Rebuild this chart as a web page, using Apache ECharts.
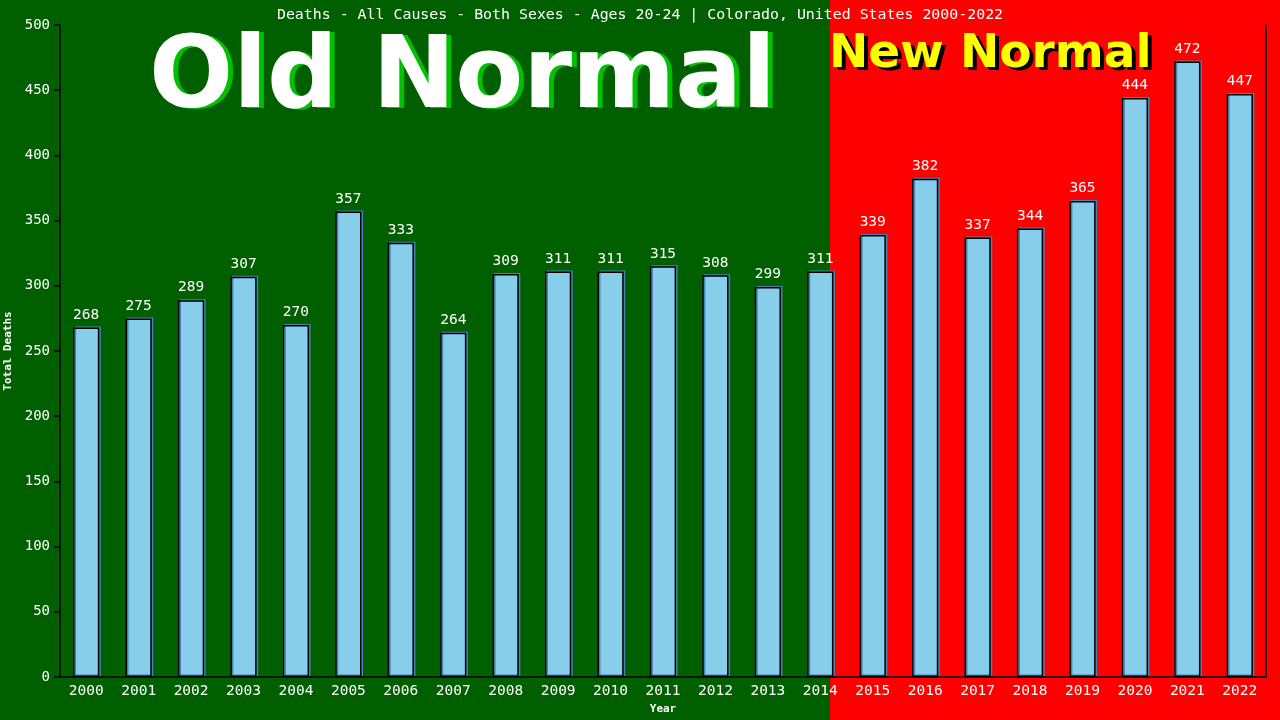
<!DOCTYPE html>
<html style="height: 100%">
<head>
    <meta charset="utf-8">
</head>
<body style="height: 100%; margin: 0">
<div id="container" style="width: 1280px; height: 720px"></div>
<script type="text/javascript" src="https://cdn.jsdelivr.net/npm/echarts@6/dist/echarts.min.js"></script>
<script type="text/javascript">
    var years = ['2000', '2001', '2002', '2003', '2004', '2005', '2006', '2007', '2008', '2009', '2010', '2011',
        '2012', '2013', '2014', '2015', '2016', '2017', '2018', '2019', '2020', '2021', '2022'];
    var deaths = [268, 275, 289, 307, 270, 357, 333, 264, 309, 311, 311, 315,
        308, 299, 311, 339, 382, 337, 344, 365, 444, 472, 447];
    var yTicks = [0, 50, 100, 150, 200, 250, 300, 350, 400, 450, 500];

    var font = 'DejaVu Sans Mono';
    var myChart = echarts.init(document.getElementById('container'));

    var option = {
        animation: false,
        backgroundColor: '#006000',
        title: {
            text: 'Deaths - All Causes - Both Sexes - Ages 20-24 | Colorado, United States 2000-2022',
            left: 'center',
            top: 3,
            textStyle: {color: '#fff', fontFamily: font, fontSize: 14.9, fontWeight: 'normal'}
        },
        graphic: [
            {type: 'rect', left: 830, top: 0, shape: {width: 450, height: 720}, style: {fill: '#ff0000'}, z: -10},
            {type: 'text', left: 154, top: 33, z: 5,
                style: {text: 'Old Normal', fill: '#00c000', font: 'bold 99px "DejaVu Sans"'}},
            {type: 'text', left: 149, top: 32, z: 6,
                style: {text: 'Old Normal', fill: '#ffffff', font: 'bold 99px "DejaVu Sans"'}},
            {type: 'text', left: 833, top: 34, z: 5,
                style: {text: 'New Normal', fill: '#000000', font: 'bold 47px "DejaVu Sans"'}},
            {type: 'text', left: 829, top: 31, z: 6,
                style: {text: 'New Normal', fill: '#ffff00', font: 'bold 47px "DejaVu Sans"'}}
        ],
        grid: {left: 60, right: 14, top: 25, bottom: 43, outerBoundsMode: 'none'},
        xAxis: {
            type: 'category',
            data: years,
            name: 'Year',
            nameLocation: 'middle',
            nameGap: 27,
            nameTextStyle: {color: '#fff', fontFamily: font, fontSize: 11, fontWeight: 'bold'},
            axisLine: {lineStyle: {color: '#000', width: 1.5}},
            axisTick: {show: false},
            axisLabel: {color: '#fff', fontFamily: font, fontSize: 14.5, margin: 7}
        },
        yAxis: [{
            type: 'value',
            min: yTicks[0],
            max: yTicks[yTicks.length - 1],
            interval: 50,
            name: 'Total Deaths',
            nameLocation: 'middle',
            nameGap: 43,
            nameTextStyle: {color: '#fff', fontFamily: font, fontSize: 11, fontWeight: 'bold'},
            axisLine: {show: true, lineStyle: {color: '#000', width: 1.5}},
            axisTick: {show: true, length: 6, lineStyle: {color: '#000', width: 1.5}},
            splitLine: {show: false},
            axisLabel: {color: '#fff', fontFamily: font, fontSize: 14, margin: 10}
        }, {
            type: 'value',
            position: 'right',
            min: yTicks[0],
            max: yTicks[yTicks.length - 1],
            interval: 50,
            axisLine: {show: true, lineStyle: {color: '#000', width: 1.5}},
            axisTick: {show: false},
            axisLabel: {show: false},
            splitLine: {show: false}
        }],
        series: [{
            type: 'bar',
            data: deaths,
            barWidth: '50%',
            itemStyle: {
                color: '#87ceeb',
                borderColor: '#000',
                borderWidth: 1.5,
                shadowColor: '#4682b4',
                shadowOffsetX: 1.5,
                shadowOffsetY: -1
            },
            label: {
                show: true,
                position: 'top',
                distance: 5,
                color: '#fff',
                fontFamily: font,
                fontSize: 14.5
            }
        }]
    };
    myChart.setOption(option);
</script>
</body>
</html>
